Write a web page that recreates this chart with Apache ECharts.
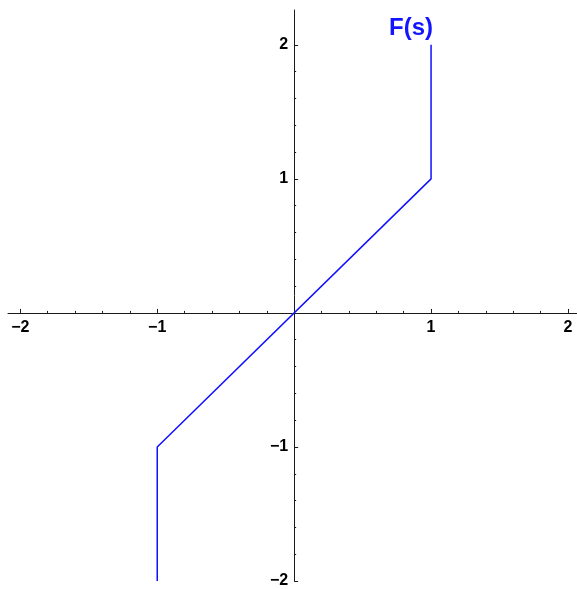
<!DOCTYPE html>
<html>
<head>
<meta charset="utf-8">
<script src="https://cdn.jsdelivr.net/npm/echarts@6/dist/echarts.min.js"></script>
<style>
  html, body { margin: 0; padding: 0; background: #fff; }
  #chart { width: 577px; height: 589px; }
</style>
</head>
<body>
<div id="chart"></div>
<script>
// Piecewise curve F(s): vertical drop at s = -1, slope 1 in between, vertical rise at s = 1
const curveS = [-1, -1, 1, 1];
const curveF = [-2, -1, 1, 2];
const curveLabel = 'F(s)';

// Axis ranges and tick values
const xRange = [-2.09, 2.066];
const yRange = [-2, 2.26];
const majorTicks = [-2, -1, 1, 2];
const minorTicks = [-1.8, -1.6, -1.4, -1.2, -0.8, -0.6, -0.4, -0.2,
                    0.2, 0.4, 0.6, 0.8, 1.2, 1.4, 1.6, 1.8];

const fmt = v => (v < 0 ? '\u2212' + Math.abs(v) : String(v));
const labelFont = { fontFamily: 'Liberation Sans, Arial, sans-serif', fontWeight: 'bold', fontSize: 16, color: '#000' };
const lineStyle = { color: '#1a1a1a', width: 1 };

// Two axes per dimension: one draws the line with short minor ticks,
// the other the longer major ticks and labels. Both are shifted so they cross at the origin.
function makeAxes(dimRange, isX, offset) {
  const base = {
    type: 'value', min: dimRange[0], max: dimRange[1],
    position: isX ? 'bottom' : 'left',
    offset: offset,
    splitLine: { show: false },
  };
  const main = Object.assign({}, base, {
    axisLine: { show: true, onZero: false, lineStyle: lineStyle },
    axisTick: { show: true, inside: true, length: 2, customValues: minorTicks, lineStyle: lineStyle },
    axisLabel: { show: false },
  });
  const major = Object.assign({}, base, {
    axisLine: { show: false, onZero: false },
    axisTick: { show: true, inside: true, length: 4, customValues: majorTicks, lineStyle: lineStyle },
    axisLabel: Object.assign({ show: true, customValues: majorTicks, formatter: fmt, margin: isX ? 7 : 6 }, labelFont),
  });
  return [main, major];
}

function buildOption(xOffset, yOffset) {
  return {
    animation: false,
    backgroundColor: '#fff',
    grid: { left: 8, right: 0, top: 10, bottom: 8, containLabel: false, outerBoundsMode: 'none' },
    xAxis: makeAxes(xRange, true, xOffset),
    yAxis: makeAxes(yRange, false, yOffset),
    series: [
      {
        type: 'line',
        xAxisIndex: 0, yAxisIndex: 0,
        data: curveS.map((s, i) => [s, curveF[i]]),
        showSymbol: false,
        lineStyle: { color: '#1010ff', width: 1.5 },
        z: 3
      },
      {
        type: 'scatter',
        xAxisIndex: 0, yAxisIndex: 0,
        data: [[curveS[curveS.length - 1], curveF[curveF.length - 1]]],
        symbolSize: 0,
        itemStyle: { opacity: 1 },
        label: {
          show: true,
          formatter: curveLabel,
          position: [2, -16],
          align: 'right',
          verticalAlign: 'middle',
          fontFamily: 'Liberation Sans, Arial, sans-serif',
          fontWeight: 'bold',
          fontSize: 24,
          color: '#1414ff'
        },
        z: 4
      }
    ]
  };
}

const chart = echarts.init(document.getElementById('chart'), null, { renderer: 'canvas' });
chart.setOption(buildOption(0, 0));

// Move the axes from the grid edges to the origin
const yZero = chart.convertToPixel({ yAxisIndex: 0 }, 0);
const yEdge = chart.convertToPixel({ yAxisIndex: 0 }, yRange[0]);
const xZero = chart.convertToPixel({ xAxisIndex: 0 }, 0);
const xEdge = chart.convertToPixel({ xAxisIndex: 0 }, xRange[0]);
chart.setOption(buildOption(-(yEdge - yZero), -(xZero - xEdge)), true);
</script>
</body>
</html>
